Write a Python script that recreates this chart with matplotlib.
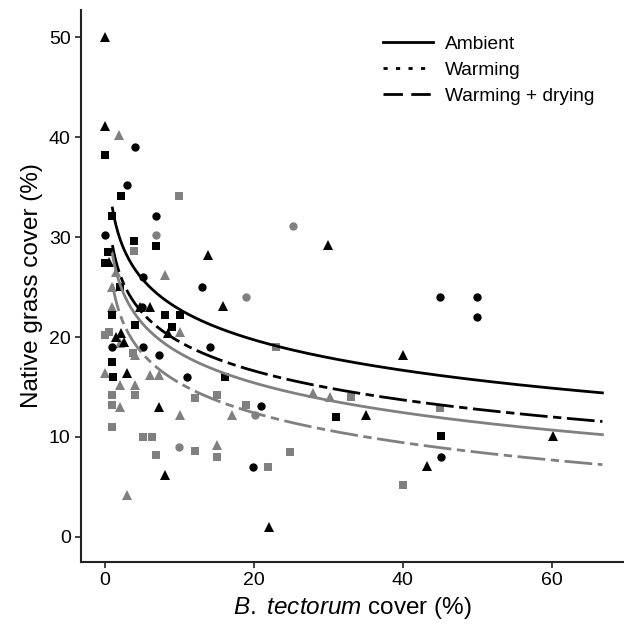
import numpy as np
import matplotlib
matplotlib.use("Agg")
from matplotlib import pyplot as plt
from matplotlib.lines import Line2D

plt.rcParams['font.family'] = ['Liberation Sans', 'DejaVu Sans']
plt.rcParams['mathtext.fontset'] = 'custom'
plt.rcParams['mathtext.it'] = 'Liberation Sans:italic'
plt.rcParams['mathtext.rm'] = 'Liberation Sans'

# B. tectorum cover (%), native grass cover (%) per marker group
black_tri_x = [0, 0, 13.9, 30, 15.9, 4.7, 6, 2.2, 8.5, 3, 7.2, 8.05, 35, 40, 43.2, 60.1, 22, 0.5, 1.5, 2.5]
black_tri_y = [50, 41.1, 28.2, 29.2, 23.1, 23, 23, 20.4, 20.4, 16.4, 13, 6.2, 12.2, 18.2, 7.1, 10.1, 1, 27.5, 20, 19.5]
black_circ_x = [4, 3, 6.9, 0, 13, 5.1, 0.9, 5.1, 7.2, 11, 14.1, 21, 19.9, 45.1, 45, 50, 50, 5]
black_circ_y = [39, 35.2, 32.1, 30.2, 25, 26, 19, 19, 18.2, 16, 19, 13.1, 7, 8, 24, 24, 22, 23]
black_sq_x = [0, 2.1, 1, 3.9, 6.9, 0.45, 0, 10.1, 8.05, 1, 4, 1, 1.1, 16.1, 31, 45.1, 2, 9]
black_sq_y = [38.2, 34.1, 32.1, 29.6, 29.1, 28.5, 27.4, 22.2, 22.2, 22.2, 21.2, 17.5, 16, 16, 12, 10.1, 25, 21]
gray_tri_x = [1.9, 8.05, 10.1, 2, 4, 0, 6, 7.2, 2, 4, 2, 10.1, 3, 28, 30.2, 17, 15, 1, 1.5, 1]
gray_tri_y = [40.2, 26.2, 20.5, 19.4, 18.2, 16.4, 16.2, 16.2, 15.2, 15.2, 13, 12.2, 4.2, 14.4, 14, 12.2, 9.2, 25, 26.5, 23]
gray_circ_x = [6.9, 25.2, 10, 19, 20.1]
gray_circ_y = [30.2, 31.1, 9, 24, 12.2]
gray_sq_x = [10, 3.9, 0, 3.8, 4, 0.9, 1, 12.1, 1, 5.1, 6.3, 12.1, 6.9, 23, 33.1, 15, 19, 15, 24.9, 21.9, 45, 40, 0.5]
gray_sq_y = [34.1, 28.6, 20.2, 18.4, 14.2, 14.2, 13.2, 13.9, 11, 10, 10, 8.6, 8.2, 19, 14, 14.2, 13.2, 8, 8.5, 7, 12.9, 5.2, 20.5]

# fitted curves: y = a + b * ln(x)
fit_a = [32.9, 29.2, 28.3, 25.3]
fit_b = [-4.4, -4.2, -4.3, -4.3]
fit_color = ['black', 'black', '#808080', '#808080']
fit_dashed = [False, True, False, True]

legend_labels = ['Ambient', 'Warming', 'Warming + drying']

fig = plt.figure(figsize=(6.24, 6.3), dpi=100)
ax = fig.add_axes([0.13, 0.108, 0.87, 0.876])

grey = '#808080'
ax.plot(gray_sq_x, gray_sq_y, 's', color=grey, ms=5.5, mew=0)
ax.plot(gray_tri_x, gray_tri_y, '^', color=grey, ms=7, mew=0)
ax.plot(gray_circ_x, gray_circ_y, 'o', color=grey, ms=6, mew=0)
ax.plot(black_sq_x, black_sq_y, 's', color='black', ms=5.5, mew=0)
ax.plot(black_tri_x, black_tri_y, '^', color='black', ms=7, mew=0)
ax.plot(black_circ_x, black_circ_y, 'o', color='black', ms=6, mew=0)

xs = np.linspace(1, 66.8, 300)
for a, b, c, d in zip(fit_a, fit_b, fit_color, fit_dashed):
    ln, = ax.plot(xs, a + b * np.log(xs), color=c, lw=2)
    if d:
        ln.set_dashes([10, 2, 3, 2])

handles = [Line2D([], [], color='black', lw=2),
           Line2D([], [], color='black', lw=2, dashes=[1.5, 3]),
           Line2D([], [], color='black', lw=2, dashes=[7, 3])]
ax.legend(handles, legend_labels, loc='upper left', bbox_to_anchor=(0.525, 0.985),
          frameon=False, fontsize=13.8, handlelength=2.6, handletextpad=0.6,
          labelspacing=0.45)

ax.set_xlim(-3.2, 69.7)
ax.set_ylim(-2.5, 52.7)
ax.set_xticks([0, 20, 40, 60])
ax.set_yticks([0, 10, 20, 30, 40, 50])
for s in ['top', 'right']:
    ax.spines[s].set_visible(False)
for s in ['left', 'bottom']:
    ax.spines[s].set_linewidth(1.5)
    ax.spines[s].set_color('#222222')
ax.tick_params(labelsize=14, width=1.2, length=4, color='#222222')
ax.set_xlabel(r'$\it{B.\ tectorum}$ cover (%)', fontsize=17.5)
ax.set_ylabel('Native grass cover (%)', fontsize=17.5)

plt.savefig('out.png', dpi=100)
